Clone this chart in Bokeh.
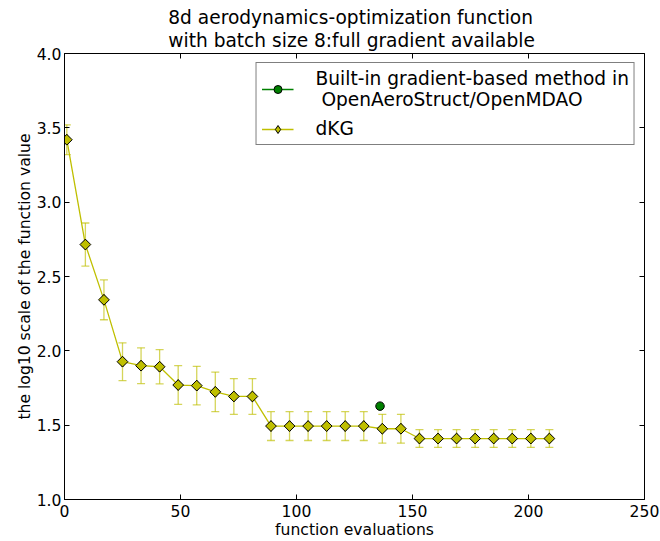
import numpy as np
from bokeh.plotting import figure
from bokeh.models import (ColumnDataSource, Whisker, TeeHead, Legend, LegendItem,
                          LinearAxis, FixedTicker, Range1d, NumeralTickFormatter)
from bokeh.embed import file_html
from bokeh.resources import INLINE

# ---- data ----
evals = [1, 9, 17, 25, 33, 41, 49, 57, 65, 73, 81, 89, 97, 105, 113, 121, 129,
         137, 145, 153, 161, 169, 177, 185, 193, 201, 209]
dkg_mean = [3.42, 2.715, 2.343, 1.927, 1.900, 1.893, 1.770, 1.766, 1.724, 1.693,
            1.693, 1.494, 1.494, 1.494, 1.494, 1.494, 1.494, 1.476, 1.476,
            1.410, 1.410, 1.410, 1.410, 1.410, 1.410, 1.410, 1.410]
dkg_err = [0.100, 0.145, 0.134, 0.127, 0.120, 0.115, 0.130, 0.130, 0.133, 0.120,
           0.120, 0.097, 0.097, 0.097, 0.097, 0.097, 0.097, 0.097, 0.097,
           0.060, 0.060, 0.060, 0.060, 0.060, 0.060, 0.060, 0.060]
builtin_evals = [136]
builtin_value = [1.628]
x_ticks = [0, 50, 100, 150, 200, 250]
y_ticks = [1.0, 1.5, 2.0, 2.5, 3.0, 3.5, 4.0]

title_text = "8d aerodynamics-optimization function\n with batch size 8:full gradient available"
label_builtin = "Built-in gradient-based method in\n OpenAeroStruct/OpenMDAO"
label_dkg = "dKG"

FONT = "DejaVu Sans"
YEL = "#bfbf00"
GRN = "#008000"

src = ColumnDataSource(dict(
    x=evals, y=dkg_mean,
    upper=[m + e for m, e in zip(dkg_mean, dkg_err)],
    lower=[m - e for m, e in zip(dkg_mean, dkg_err)],
))
src_b = ColumnDataSource(dict(x=builtin_evals, y=builtin_value))

p = figure(width=660, height=541, output_backend="svg", toolbar_location=None,
           x_range=Range1d(0, 250), y_range=Range1d(1.0, 4.0),
           min_border_left=64, min_border_right=16, min_border_top=53,
           min_border_bottom=39)

p.title.text = title_text
p.title.align = "center"
p.title.text_font = FONT
p.title.text_font_size = "18.6px"
p.title.text_font_style = "normal"
p.title.text_line_height = 1.12
p.title.standoff = 4
p.title.text_color = "black"

p.xgrid.visible = False
p.ygrid.visible = False
p.outline_line_color = "black"
p.outline_line_width = 1
p.background_fill_color = "white"
p.border_fill_color = "white"

for ax in (p.xaxis[0], p.yaxis[0]):
    ax.major_tick_in = 5
    ax.major_tick_out = 0
    ax.minor_tick_in = 0
    ax.minor_tick_out = 0
    ax.axis_line_color = "black"
    ax.major_tick_line_color = "black"
    ax.major_label_text_font = FONT
    ax.major_label_text_font_size = "15.6px"
    ax.major_label_text_color = "black"
    ax.major_label_text_line_height = 1.0
    ax.axis_label_text_font = FONT
    ax.axis_label_text_font_size = "15.6px"
    ax.axis_label_text_font_style = "normal"
    ax.axis_label_text_color = "black"
    ax.axis_label_text_line_height = 1.0

p.xaxis[0].ticker = FixedTicker(ticks=x_ticks)
p.yaxis[0].ticker = FixedTicker(ticks=y_ticks)
p.yaxis[0].formatter = NumeralTickFormatter(format="0.0")
p.xaxis[0].axis_label = "function evaluations"
p.yaxis[0].axis_label = "the log10 scale of the function value"
p.xaxis[0].major_label_standoff = 5
p.yaxis[0].major_label_standoff = 3
p.xaxis[0].axis_label_standoff = 1
p.yaxis[0].axis_label_standoff = 0

# mirrored ticks on top and right (no labels)
top = LinearAxis(ticker=FixedTicker(ticks=x_ticks), major_tick_in=5, major_tick_out=0,
                 minor_tick_in=0, minor_tick_out=0, major_label_text_color=None,
                 major_label_text_font_size="1px", major_label_standoff=0,
                 axis_line_color=None)
right = LinearAxis(ticker=FixedTicker(ticks=y_ticks), major_tick_in=5, major_tick_out=0,
                   minor_tick_in=0, minor_tick_out=0, major_label_text_color=None,
                   major_label_text_font_size="1px", major_label_standoff=0,
                   axis_line_color=None)
p.add_layout(top, "above")
p.add_layout(right, "right")

whisk = Whisker(source=src, base="x", upper="upper", lower="lower",
                line_color=YEL, line_alpha=0.65, line_width=1.3,
                upper_head=TeeHead(size=8, line_color=YEL, line_alpha=0.65, line_width=1.3),
                lower_head=TeeHead(size=8, line_color=YEL, line_alpha=0.65, line_width=1.3))
p.add_layout(whisk)

yl = p.line("x", "y", source=src, line_color=YEL, line_width=1.3)
# diamond used for the legend swatch; fully covered by the plotted markers
ys_leg = p.scatter("x", "y", source=src, marker="diamond", size=10.5,
                   fill_color=YEL, line_color="black", line_width=1)
ys = p.scatter("x", "y", source=src, marker="square", size=7.6, angle=np.pi / 4,
               fill_color=YEL, line_color="black", line_width=1)

gl = p.line("x", "y", source=src_b, line_color=GRN, line_width=1.3)
gs = p.scatter("x", "y", source=src_b, marker="circle", size=8.5,
               fill_color=GRN, line_color="black", line_width=1)

legend = Legend(items=[LegendItem(label=label_builtin, renderers=[gl, gs]),
                       LegendItem(label=label_dkg, renderers=[yl, ys_leg])],
                location="top_right", margin=9, padding=5, spacing=8,
                glyph_width=32, label_standoff=22,
                label_text_font=FONT, label_text_font_size="18.6px",
                label_text_color="black", label_text_line_height=1.1,
                border_line_color="black", border_line_width=1,
                background_fill_color="white", background_fill_alpha=1.0)
p.add_layout(legend, "center")

open("out.html", "w").write(file_html(p, INLINE))
